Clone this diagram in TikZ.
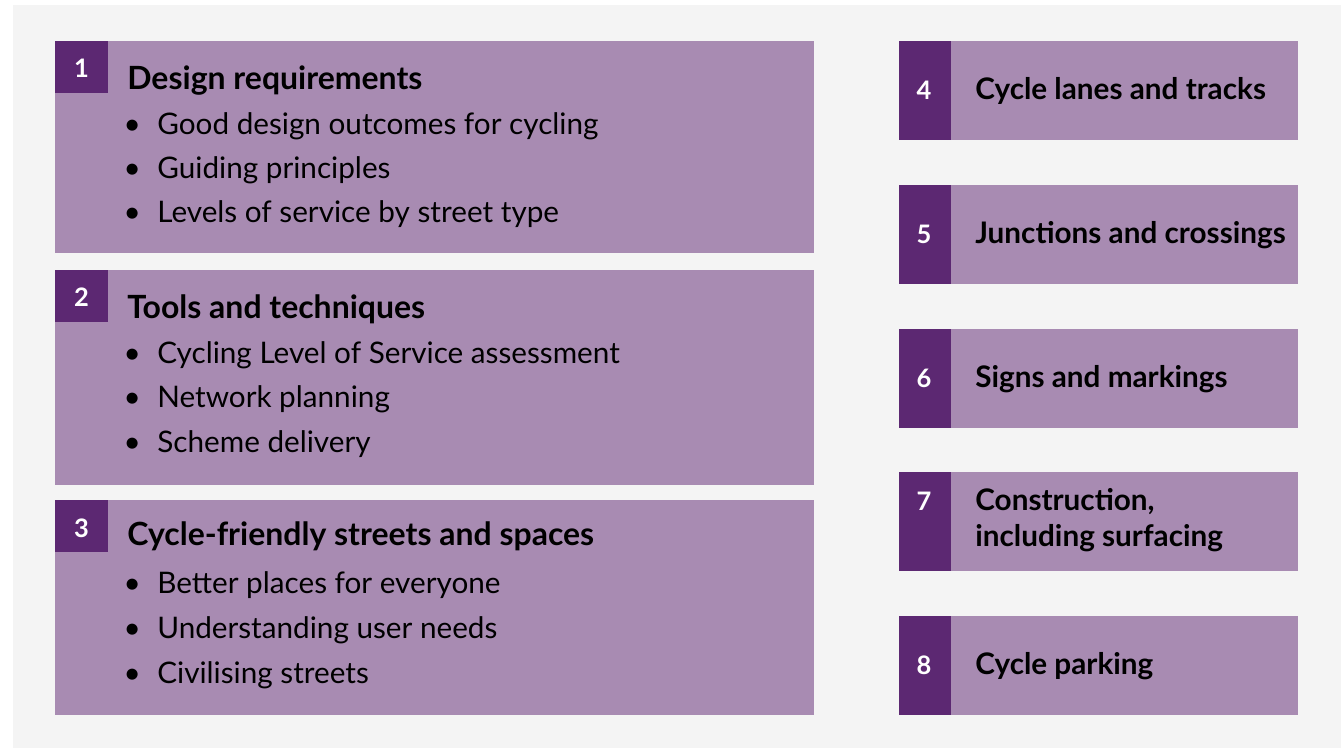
\documentclass[tikz,border=0pt]{standalone}
\usepackage{fontspec}
\setmainfont{Lato}

\definecolor{panelgrey}{HTML}{F4F4F4}
\definecolor{lilac}{HTML}{A88BB2}
\definecolor{plum}{HTML}{5C2872}

\newcommand{\dotitem}{\llap{\makebox[0pt]{\textbullet}\hspace{0.5cm}}}

\begin{document}
\begin{tikzpicture}[x=0.02cm,y=-0.02cm,
  head/.style={anchor=base west,inner sep=0pt,font=\fontsize{18.2pt}{22pt}\bfseries\selectfont},
  item/.style={anchor=base west,inner sep=0pt,font=\fontsize{16.9pt}{20pt}\selectfont},
  chap/.style={anchor=base west,inner sep=0pt,font=\fontsize{16.9pt}{20pt}\bfseries\selectfont},
  num/.style={anchor=base,inner sep=0pt,text=white,font=\fontsize{14.5pt}{17pt}\bfseries\selectfont}]
% page and panel
\useasboundingbox[fill=white] (0,0) rectangle (1341,748);
\fill[panelgrey] (13,5) rectangle (1341,748);

% left column
\fill[lilac] (55,41) rectangle (814,253);
\fill[plum] (55,41) rectangle (108,93);
\fill[lilac] (55,270) rectangle (814,485);
\fill[plum] (55,270) rectangle (108,322);
\fill[lilac] (55,500) rectangle (814,715);
\fill[plum] (55,500) rectangle (108,552);

\node[num] (n1) at (81.5,77) {1};
\node[head] (h1) at (127,89) {Design requirements};
\foreach \t [count=\i] in {Good design outcomes for cycling,Guiding principles,Levels of service by street type}
  \node[item] (b1-\i) at (157,{134+44.3*(\i-1)}) {\dotitem\t};

\node[num] (n2) at (81.5,306) {2};
\node[head] (h2) at (127,318) {Tools and techniques};
\foreach \t [count=\i] in {Cycling Level of Service assessment,Network planning,Scheme delivery}
  \node[item] (b2-\i) at (157,{363+44.5*(\i-1)}) {\dotitem\t};

\node[num] (n3) at (81.5,537) {3};
\node[head] (h3) at (127,545) {Cycle-friendly streets and spaces};
\foreach \t [count=\i] in {Better places for everyone,Understanding user needs,Civilising streets}
  \node[item] (b3-\i) at (157,{593+45*(\i-1)}) {\dotitem\t};

% right column
\foreach \n/\t [count=\i] in {4/Cycle lanes and tracks,5/Junctions and crossings,6/Signs and markings,8/Cycle parking}{
  \pgfmathsetmacro{\top}{\i<4 ? 41+144*(\i-1) : 616}
  \fill[lilac] (899,\top) rectangle (1298,\top+99);
  \fill[plum] (899,\top) rectangle (951,\top+99);
  \node[num] (n\n) at (924,\top+58) {\n};
  \node[chap] (c\n) at (975,\top+58) {\t};
}
\fill[lilac] (899,472) rectangle (1298,571);
\fill[plum] (899,472) rectangle (951,571);
\node[num] (n7) at (924,510) {7};
\node[chap] (c7) at (975,510) {Construction,};
\node[chap] (c7b) at (975,546) {including surfacing};
\end{tikzpicture}
\end{document}
